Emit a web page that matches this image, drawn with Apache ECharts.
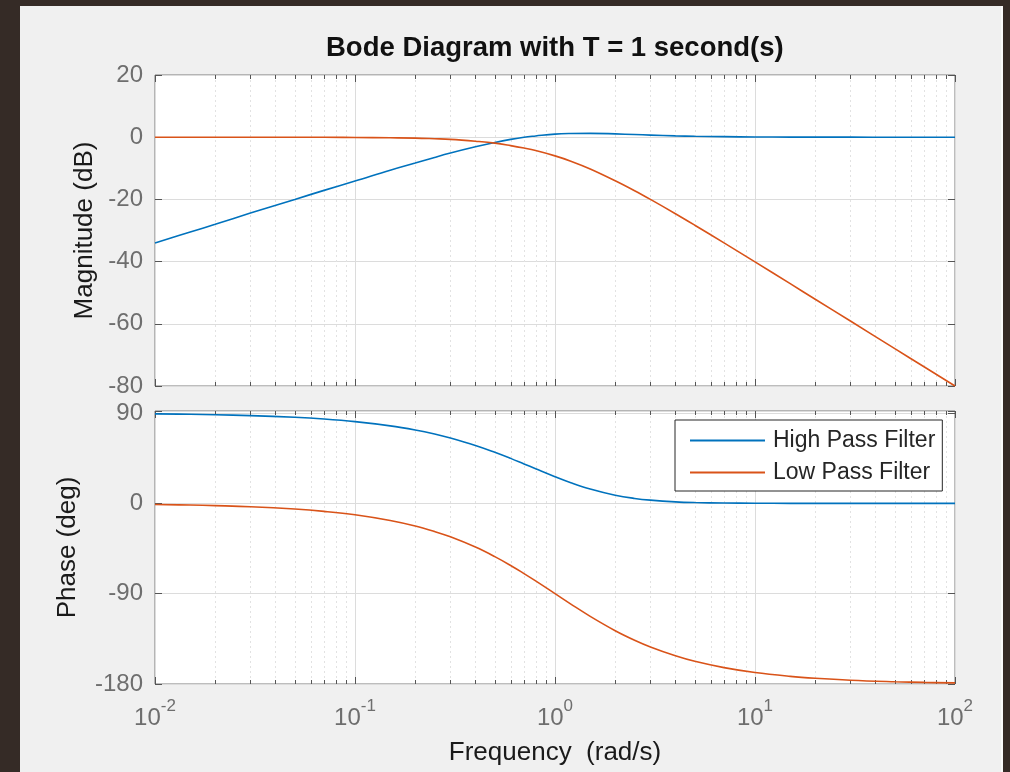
<!DOCTYPE html>
<html>
<head>
<meta charset="utf-8">
<script src="https://cdn.jsdelivr.net/npm/echarts@6/dist/echarts.min.js"></script>
<style>
  html, body { margin: 0; padding: 0; background: #352b26; }
  #panel { position: absolute; left: 20px; top: 6px; width: 981px; height: 766px; background: #f0f0f0; border-right: 2px solid #fafafa; }
  #main { position: absolute; left: 0; top: 0; width: 1010px; height: 772px; }
</style>
</head>
<body>
<div id="panel"></div>
<div id="main"></div>
<script>
// frequencies (rad/s) read along the log axis
const freq = [0.01, 0.015, 0.02, 0.03, 0.05, 0.07, 0.1, 0.15, 0.2, 0.25, 0.3, 0.4, 0.5, 0.6, 0.7, 0.8,
  1, 1.2, 1.5, 2, 2.5, 3, 4, 5, 7, 10, 15, 20, 30, 50, 70, 100];
// magnitude (dB)
const hpMag = [-34.0, -30.5, -28.0, -24.4, -20.0, -17.1, -14.1, -10.6, -8.3, -6.5, -5.1, -3.1, -1.7, -0.7, 0.0, 0.4,
  1.0, 1.19, 1.24, 1.07, 0.86, 0.68, 0.44, 0.3, 0.17, 0.08, 0.04, 0.02, 0.01, 0.0, 0.0, 0.0];
const lpMag = [0.0, 0.0, 0.0, 0.0, 0.0, 0.0, -0.1, -0.2, -0.3, -0.5, -0.7, -1.3, -1.9, -2.7, -3.5, -4.3,
  -6.0, -7.7, -10.2, -14.0, -17.2, -20.0, -24.6, -28.3, -34.0, -40.1, -47.1, -52.1, -59.1, -68.0, -73.8, -80.0];
// phase (deg)
const hpPhase = [89.1, 88.7, 88.3, 87.4, 85.7, 84.0, 81.4, 77.2, 73.1, 69.1, 65.1, 57.7, 50.9, 44.8, 39.3, 34.5,
  26.6, 20.6, 14.3, 8.1, 4.9, 3.2, 1.5, 0.8, 0.3, 0.1, 0.0, 0.0, 0.0, 0.0, 0.0, 0.0];
const lpPhase = [-1.1, -1.7, -2.3, -3.4, -5.7, -8.0, -11.4, -17.1, -22.6, -28.1, -33.4, -43.6, -53.1, -61.9, -70.0, -77.3,
  -90.0, -100.4, -112.6, -126.9, -136.4, -143.1, -151.9, -157.4, -163.7, -168.6, -172.4, -174.3, -176.2, -177.7, -178.4, -178.9];

// minor log grid: decades x multipliers 2..9
const decades = [0.01, 0.1, 1, 10];
const multipliers = [2, 3, 4, 5, 6, 7, 8, 9];
const minorFreq = [];
decades.forEach(d => multipliers.forEach(m => minorFreq.push([+(d * m).toPrecision(3), 0])));

const FONT = '"Liberation Sans", Arial, Helvetica, sans-serif';
const BLUE = '#0072BD', ORANGE = '#D95319';
const TICK = '#555';
const GRIDLINE = '#dcdcdc';

function pairs(ys) { return freq.map((f, i) => [f, ys[i]]); }

function minorGrid(params, api) {
  const cs = params.coordSys;
  const x = Math.round(api.coord([api.value(0), api.value(1)])[0]) + 0.5;
  const top = cs.y, bot = cs.y + cs.height;
  return {
    type: 'group',
    children: [
      {type: 'line', shape: {x1: x, y1: top, x2: x, y2: bot}, style: {stroke: '#e2e2e2', lineWidth: 1, lineDash: [2, 3]}},
      {type: 'line', shape: {x1: x, y1: top, x2: x, y2: top + 4}, style: {stroke: TICK, lineWidth: 1}},
      {type: 'line', shape: {x1: x, y1: bot, x2: x, y2: bot - 4}, style: {stroke: TICK, lineWidth: 1}}
    ]
  };
}

function logAxis(grid, pos, labels) {
  return {
    type: 'log', gridIndex: grid, position: pos, min: 0.01, max: 100, logBase: 10,
    axisLine: {show: false, onZero: false},
    axisTick: {show: true, inside: true, length: 7, lineStyle: {color: TICK}},
    splitLine: {show: pos === 'bottom', lineStyle: {color: GRIDLINE, width: 1}},
    axisLabel: labels ? {
      show: true, margin: 14, color: '#6e6e6e', fontFamily: FONT,
      formatter: v => '{b|10}{s|' + Math.round(Math.log10(v)) + '}',
      rich: {
        b: {fontSize: 24, fontFamily: FONT, color: '#6e6e6e', lineHeight: 32, verticalAlign: 'bottom'},
        s: {fontSize: 17, fontFamily: FONT, color: '#6e6e6e', lineHeight: 17, verticalAlign: 'top'}
      }
    } : {show: false}
  };
}

function valAxis(grid, pos, min, max, interval, name, gap) {
  const left = pos === 'left';
  return {
    type: 'value', gridIndex: grid, position: pos, min: min, max: max, interval: interval,
    axisLine: {show: false, onZero: false},
    axisTick: {show: true, inside: true, length: 7, lineStyle: {color: TICK}},
    splitLine: {show: left, lineStyle: {color: GRIDLINE, width: 1}},
    axisLabel: left ? {
      show: true, margin: 12, fontSize: 24, fontFamily: FONT, color: '#6e6e6e',
      formatter: v => (v % interval === 0 ? String(v) : '')
    } : {show: false},
    name: left ? name : '', nameLocation: 'middle', nameGap: gap, nameRotate: 90,
    nameTextStyle: {fontSize: 26, fontFamily: FONT, color: '#1a1a1a'}
  };
}

const chart = echarts.init(document.getElementById('main'), null, {renderer: 'canvas'});

chart.setOption({
  backgroundColor: 'transparent',
  animation: false,
  title: {
    text: 'Bode Diagram with T = 1 second(s)',
    left: 326, top: 34, padding: 0,
    textStyle: {fontSize: 27.5, fontWeight: 'bold', fontFamily: FONT, color: '#111'}
  },
  legend: {
    data: ['High Pass Filter', 'Low Pass Filter'],
    orient: 'vertical', left: 675, top: 420,
    backgroundColor: '#fff', borderColor: '#262626', borderWidth: 1,
    padding: [9, 7, 7, 15], itemGap: 9,
    icon: 'rect', itemWidth: 75, itemHeight: 2,
    textStyle: {fontSize: 23, fontFamily: FONT, color: '#262626', lineHeight: 22, padding: [0, 0, 0, 3]}
  },
  grid: [
    {left: 155, top: 75, width: 800, height: 311, show: true, backgroundColor: '#fff', borderColor: '#7a7a7a', borderWidth: 1},
    {left: 155, top: 411, width: 800, height: 273, show: true, backgroundColor: '#fff', borderColor: '#7a7a7a', borderWidth: 1}
  ],
  xAxis: [
    logAxis(0, 'bottom', false),
    logAxis(0, 'top', false),
    Object.assign(logAxis(1, 'bottom', true), {
      name: 'Frequency  (rad/s)', nameLocation: 'middle', nameGap: 56,
      nameTextStyle: {fontSize: 26, fontFamily: FONT, color: '#1a1a1a'}
    }),
    logAxis(1, 'top', false)
  ],
  yAxis: [
    valAxis(0, 'left', -80, 20, 20, 'Magnitude (dB)', 55),
    valAxis(0, 'right', -80, 20, 20, '', 0),
    valAxis(1, 'left', -180, 92, 90, 'Phase (deg)', 74),
    valAxis(1, 'right', -180, 92, 90, '', 0)
  ],
  series: [
    {type: 'custom', xAxisIndex: 0, yAxisIndex: 0, renderItem: minorGrid, data: minorFreq, silent: true, z: 1},
    {type: 'custom', xAxisIndex: 2, yAxisIndex: 2, renderItem: minorGrid, data: minorFreq, silent: true, z: 1},
    {name: 'High Pass Filter', type: 'line', xAxisIndex: 0, yAxisIndex: 0, data: pairs(hpMag),
      showSymbol: false, smooth: 0.4, lineStyle: {color: BLUE, width: 1.6}, itemStyle: {color: BLUE}, z: 3},
    {name: 'Low Pass Filter', type: 'line', xAxisIndex: 0, yAxisIndex: 0, data: pairs(lpMag),
      showSymbol: false, smooth: 0.4, lineStyle: {color: ORANGE, width: 1.6}, itemStyle: {color: ORANGE}, z: 3},
    {name: 'High Pass Filter', type: 'line', xAxisIndex: 2, yAxisIndex: 2, data: pairs(hpPhase),
      showSymbol: false, smooth: 0.4, lineStyle: {color: BLUE, width: 1.6}, itemStyle: {color: BLUE}, z: 3},
    {name: 'Low Pass Filter', type: 'line', xAxisIndex: 2, yAxisIndex: 2, data: pairs(lpPhase),
      showSymbol: false, smooth: 0.4, lineStyle: {color: ORANGE, width: 1.6}, itemStyle: {color: ORANGE}, z: 3}
  ]
});
</script>
</body>
</html>
